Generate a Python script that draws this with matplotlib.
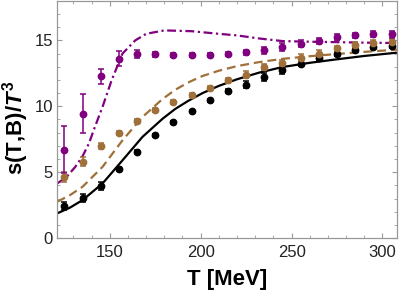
import matplotlib
matplotlib.use("Agg")
import matplotlib.pyplot as plt
from matplotlib.ticker import MultipleLocator

plt.rcParams["font.family"] = ["Liberation Sans", "DejaVu Sans"]
plt.rcParams["mathtext.fontset"] = "custom"
plt.rcParams["mathtext.rm"] = "Liberation Sans:bold"
plt.rcParams["mathtext.it"] = "Liberation Sans:italic:bold"

# ─── data points (lattice) ───
T_pts = [125, 135, 145, 155, 165, 175, 185, 195, 205, 215,
         225, 235, 245, 255, 265, 275, 285, 295, 305]

s_black = [2.42, 3.05, 3.96, 5.23, 6.54, 7.8, 8.78, 9.65, 10.45, 11.14,
           11.64, 12.2, 12.73, 13.23, 13.7, 14.0, 14.24, 14.5, 14.6]
e_black = [0.3, 0.3, 0.3, 0.15, 0.12, 0.12, 0.12, 0.1, 0.1, 0.15,
           0.25, 0.3, 0.3, 0.2, 0.15, 0.15, 0.15, 0.15, 0.15]

s_brown = [4.65, 5.8, 7.0, 8.0, 8.88, 9.7, 10.3, 10.83, 11.4, 11.97,
           12.4, 12.98, 13.3, 13.7, 14.0, 14.4, 14.66, 14.8, 14.9]
e_brown = [0.4, 0.35, 0.25, 0.15, 0.15, 0.15, 0.15, 0.15, 0.15, 0.2,
           0.25, 0.25, 0.25, 0.25, 0.25, 0.2, 0.2, 0.2, 0.2]

s_purple = [6.72, 9.45, 12.27, 13.6, 14.0, 13.94, 13.9, 13.86, 13.9, 14.0,
            14.1, 14.24, 14.5, 14.75, 14.95, 15.25, 15.38, 15.48, 15.45]
e_purple = [1.75, 1.45, 0.58, 0.57, 0.3, 0.2, 0.15, 0.15, 0.15, 0.15,
            0.2, 0.25, 0.3, 0.25, 0.2, 0.2, 0.2, 0.2, 0.25]

# ─── model curves ───
T_black = [121, 128, 135, 146, 157, 168, 179, 186, 193, 201, 210, 220,
           232, 245, 260, 274, 290, 308]
c_black = [1.87, 2.3, 2.88, 4.14, 5.9, 7.68, 9.05, 9.8, 10.4, 11.0, 11.55, 12.05,
           12.55, 12.98, 13.3, 13.55, 13.82, 14.07]

T_brown = [121, 128, 135, 146, 157, 168, 179, 186, 193, 201, 210, 220,
           232, 245, 260, 274, 290, 308]
c_brown = [2.75, 3.25, 3.89, 5.4, 7.42, 9.19, 10.55, 11.25, 11.8, 12.3, 12.7, 13.05,
           13.35, 13.6, 13.8, 13.96, 14.13, 14.3]

T_purple = [121, 126, 131, 135, 138.5, 142, 146, 151, 157, 164, 170, 180, 195, 210,
            220, 232, 245, 260, 274, 290, 308]
c_purple = [4.14, 4.6, 5.4, 6.2, 7.17, 8.5, 9.95, 11.97, 14.0, 15.0, 15.5, 15.76, 15.7,
            15.5, 15.38, 15.15, 14.95, 14.9, 14.87, 14.83, 14.8]

BLACK = "black"
BROWN = "#A0703A"
PURPLE = "#800080"

fig = plt.figure(figsize=(3.99, 2.95), dpi=100)
ax = fig.add_axes([0.143, 0.193, 0.852, 0.804])

ax.plot(T_black, c_black, color=BLACK, lw=1.6, solid_capstyle="butt")
ax.plot(T_brown, c_brown, color=BROWN, lw=1.6, dashes=(4, 2.2))
ax.plot(T_purple, c_purple, color=PURPLE, lw=1.6, dashes=(4, 1.6, 1, 1.6))

for s, e, c in [(s_black, e_black, BLACK), (s_brown, e_brown, BROWN),
                (s_purple, e_purple, PURPLE)]:
    ax.errorbar(T_pts, s, yerr=e, fmt="o", color=c, ms=4.6, elinewidth=1.1,
                capsize=2.0, capthick=1.1, zorder=3)

ax.set_xlim(121, 308)
ax.set_ylim(0, 18)
ax.xaxis.set_major_locator(MultipleLocator(50))
ax.xaxis.set_minor_locator(MultipleLocator(10))
ax.yaxis.set_major_locator(MultipleLocator(5))
ax.yaxis.set_minor_locator(MultipleLocator(1))
ax.tick_params(which="both", direction="in", top=True, right=True,
               color="#999999", labelsize=12, labelcolor="#222222")
ax.tick_params(axis="x", pad=5)
ax.tick_params(axis="y", pad=3)
ax.tick_params(which="major", length=3.6, width=0.8)
ax.tick_params(which="minor", length=2.0, width=0.6)
for sp in ax.spines.values():
    sp.set_color("#999999")
    sp.set_linewidth(0.9)

ax.set_xlabel("T [MeV]", fontsize=16, fontweight="bold")
ax.set_ylabel("s(T,B)/$T^3$", fontsize=16, fontweight="bold")
ax.xaxis.set_label_coords(0.5, -0.13)
ax.yaxis.set_label_coords(-0.078, 0.464)

fig.savefig("out.png", dpi=100)
